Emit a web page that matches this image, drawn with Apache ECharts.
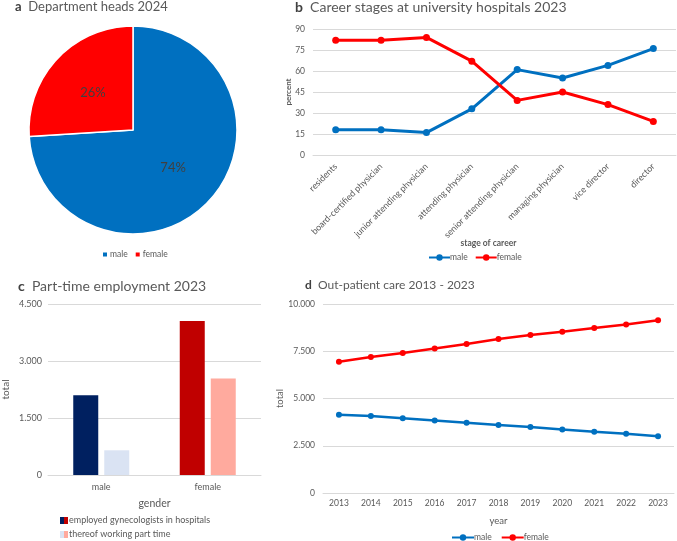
<!DOCTYPE html>
<html>
<head>
<meta charset="utf-8">
<script src="https://cdn.jsdelivr.net/npm/echarts@6/dist/echarts.min.js"></script>
<style>
  html, body { margin: 0; padding: 0; background: #fff; }
  #chart { width: 677px; height: 541px; }
</style>
</head>
<body>
<div id="chart"></div>
<script>
// a: department heads 2024 (percent)
const pieNames = ['male', 'female'];
const pieValues = [74, 26];

// b: career stages (percent)
const stages = ['residents', 'board-certified physician', 'junior attending physician', 'attending physician',
  'senior attending physician', 'managing physician', 'vice director', 'director'];
const stageMale = [18, 18, 16, 33, 61, 55, 64, 76];
const stageFemale = [82, 82, 84, 67, 39, 45, 36, 24];

// c: part-time employment 2023
const genders = ['male', 'female'];
const employed = [2100, 4050];
const partTime = [650, 2540];

// d: out-patient care
const years = ['2013', '2014', '2015', '2016', '2017', '2018', '2019', '2020', '2021', '2022', '2023'];
const outMale = [4140, 4070, 3950, 3840, 3720, 3600, 3490, 3365, 3245, 3140, 3000];
const outFemale = [6950, 7195, 7405, 7650, 7880, 8145, 8360, 8535, 8730, 8920, 9135];

const BLUE = '#0070c0';
const RED = '#ff0000';
const TXT = '#595959';
const GRID = '#d9d9d9';
const FONT = 'Lato, "Open Sans", sans-serif';

const empColors = ['#002060', '#c00000'];
const partColors = ['#dae3f3', '#ffaa9e'];

function dots(v) {
  return String(v).replace(/\B(?=(\d{3})+(?!\d))/g, '.');
}

function split(c1, c2) {
  return {
    type: 'linear', x: 0, y: 0, x2: 1, y2: 0,
    colorStops: [
      { offset: 0, color: c1 }, { offset: 0.5, color: c1 },
      { offset: 0.5, color: c2 }, { offset: 1, color: c2 }
    ]
  };
}

function title(letter, text, left, top, size) {
  return {
    text: '{b|' + letter + '}  ' + text,
    left: left, top: top, padding: 0,
    textStyle: {
      fontFamily: FONT, fontSize: size, fontWeight: 'normal', color: TXT,
      rich: { b: { fontFamily: FONT, fontSize: size, fontWeight: 'bold', color: '#404040' } }
    }
  };
}

function txt(size, weight) {
  return { color: TXT, fontFamily: FONT, fontSize: size, fontWeight: weight || 'normal' };
}

const chart = echarts.init(document.getElementById('chart'));

const option = {
  animation: false,
  textStyle: { fontFamily: FONT },
  title: [
    title('a', 'Department heads 2024', 15, 0, 13),
    title('b', 'Career stages at university hospitals 2023', 295, 0, 14),
    title('c', 'Part-time employment 2023', 18, 279, 14),
    title('d', 'Out-patient care 2013 - 2023', 305, 279, 12)
  ],
  legend: [
    {
      data: pieNames, left: 98, top: 245, icon: 'rect', itemWidth: 4, itemHeight: 4, itemGap: 8,
      textStyle: Object.assign(txt(8.5), { padding: [0, 0, 0, -2] })
    },
    {
      data: ['male', 'female'], left: 423, top: 248, itemWidth: 21, itemHeight: 8, itemGap: 7,
      textStyle: Object.assign(txt(8.5), { padding: [0, 0, 0, -5] })
    },
    {
      data: [
        { name: 'employed gynecologists in hospitals', itemStyle: { color: split(empColors[0], empColors[1]) } },
        { name: 'thereof working part time', itemStyle: { color: split(partColors[0], partColors[1]) } }
      ],
      orient: 'vertical', left: 55, top: 511, height: 40, icon: 'rect', itemWidth: 8, itemHeight: 7, itemGap: 5,
      textStyle: Object.assign(txt(9), { padding: [0, 0, 0, -4] })
    },
    {
      data: ['male', 'female'], left: 446, top: 528, itemWidth: 22, itemHeight: 8, itemGap: 9,
      textStyle: Object.assign(txt(8.5), { padding: [0, 0, 0, -5] })
    }
  ],
  grid: [
    { left: 313, right: 1, top: 29, bottom: 386 },
    { left: 45, right: 416, top: 304, bottom: 66 },
    { left: 323, right: 3, top: 304, bottom: 48 }
  ],
  xAxis: [
    {
      gridIndex: 0, type: 'category', data: stages,
      axisLine: { lineStyle: { color: GRID } }, axisTick: { show: false },
      axisLabel: Object.assign({ rotate: 45, margin: 10, interval: 0 }, txt(8.9)),
      name: 'stage of career', nameLocation: 'middle', nameGap: 84, nameMoveOverlap: false,
      nameTextStyle: Object.assign(txt(8.5, 'bold'), { padding: [0, 12, 0, 0] })
    },
    {
      gridIndex: 1, type: 'category', data: genders,
      axisLine: { lineStyle: { color: GRID } }, axisTick: { show: false },
      axisLabel: Object.assign({ margin: 8 }, txt(9)),
      name: 'gender', nameLocation: 'middle', nameGap: 23, nameMoveOverlap: false,
      nameTextStyle: txt(10.5)
    },
    {
      gridIndex: 2, type: 'category', data: years,
      axisLine: { lineStyle: { color: GRID } }, axisTick: { show: false },
      axisLabel: Object.assign({ margin: 6 }, txt(8.5)),
      name: 'year', nameLocation: 'middle', nameGap: 23, nameMoveOverlap: false,
      nameTextStyle: txt(9.5)
    }
  ],
  yAxis: [
    {
      gridIndex: 0, type: 'value', min: 0, max: 90, interval: 15,
      axisLine: { show: false }, axisTick: { show: false },
      splitLine: { lineStyle: { color: GRID } },
      axisLabel: txt(8.5),
      name: 'percent', nameLocation: 'middle', nameGap: 21, nameMoveOverlap: false,
      nameTextStyle: txt(8, 'bold')
    },
    {
      gridIndex: 1, type: 'value', min: 0, max: 4500, interval: 1500,
      axisLine: { show: false }, axisTick: { show: false },
      splitLine: { lineStyle: { color: GRID } },
      axisLabel: Object.assign({ margin: 6, formatter: dots }, txt(9)),
      name: 'total', nameLocation: 'middle', nameGap: 37, nameMoveOverlap: false,
      nameTextStyle: txt(10)
    },
    {
      gridIndex: 2, type: 'value', min: 0, max: 10000, interval: 2500,
      axisLine: { show: false }, axisTick: { show: false },
      splitLine: { lineStyle: { color: GRID } },
      axisLabel: Object.assign({ margin: 8, formatter: dots }, txt(8.5)),
      name: 'total', nameLocation: 'middle', nameGap: 38, nameMoveOverlap: false,
      nameTextStyle: txt(9.5)
    }
  ],
  series: [
    {
      type: 'pie', name: 'Department heads', center: [133, 130], radius: 104,
      startAngle: 90, clockwise: true,
      data: pieNames.map((n, i) => ({ name: n, value: pieValues[i] })),
      color: [BLUE, RED],
      itemStyle: { borderColor: '#fff', borderWidth: 1.5 },
      label: { position: 'inner', formatter: '{d}%', color: '#404040', fontFamily: FONT, fontSize: 13 },
      labelLine: { show: false }
    },
    {
      type: 'line', name: 'male', xAxisIndex: 0, yAxisIndex: 0, data: stageMale,
      color: BLUE, symbol: 'circle', symbolSize: 7, lineStyle: { width: 3 }
    },
    {
      type: 'line', name: 'female', xAxisIndex: 0, yAxisIndex: 0, data: stageFemale,
      color: RED, symbol: 'circle', symbolSize: 7, lineStyle: { width: 3 }
    },
    {
      type: 'bar', name: 'employed gynecologists in hospitals', xAxisIndex: 1, yAxisIndex: 1,
      barWidth: 25, barGap: '24%',
      data: employed.map((v, i) => ({ value: v, itemStyle: { color: empColors[i] } }))
    },
    {
      type: 'bar', name: 'thereof working part time', xAxisIndex: 1, yAxisIndex: 1,
      barWidth: 25, barGap: '24%',
      data: partTime.map((v, i) => ({ value: v, itemStyle: { color: partColors[i] } }))
    },
    {
      type: 'line', name: 'male', xAxisIndex: 2, yAxisIndex: 2, data: outMale,
      color: BLUE, symbol: 'circle', symbolSize: 6, lineStyle: { width: 2.5 }
    },
    {
      type: 'line', name: 'female', xAxisIndex: 2, yAxisIndex: 2, data: outFemale,
      color: RED, symbol: 'circle', symbolSize: 6, lineStyle: { width: 2.5 }
    }
  ]
};

chart.setOption(option);
</script>
</body>
</html>
